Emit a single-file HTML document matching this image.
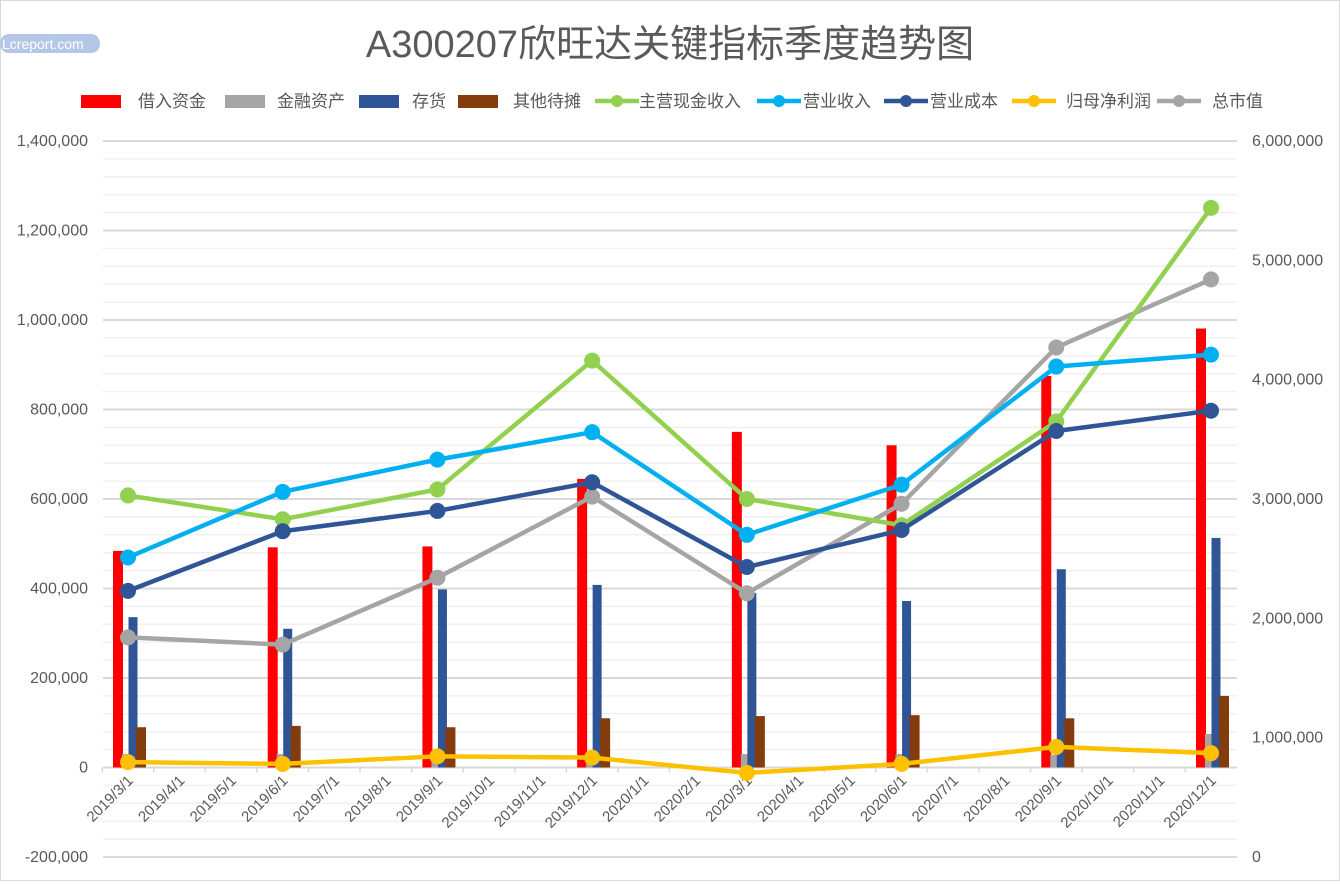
<!DOCTYPE html>
<html><head><meta charset="utf-8"><style>
body{margin:0;background:#fff;}
svg text{font-family:"Liberation Sans","Noto Sans CJK SC",sans-serif;}
</style></head><body>
<svg id="chart" width="1340" height="881" xmlns="http://www.w3.org/2000/svg">
<rect x="0.5" y="0.5" width="1339" height="880" fill="#fff" stroke="#d9d9d9"/>
<text x="670" y="57" text-anchor="middle" font-size="38" fill="#595959">A300207欣旺达关键指标季度趋势图</text>
<rect x="0" y="34" width="100" height="19" rx="9" fill="#b4c7e7"/>
<text x="2" y="49" font-size="14" fill="#fff">Lcreport.com</text>
<g id="grid"></g><g id="axes"></g><g id="bars"></g><g id="lines"></g><g id="legend"></g>
</svg>
<script>
const dates=["2019/3/1","2019/6/1","2019/9/1","2019/12/1","2020/3/1","2020/6/1","2020/9/1","2020/12/1"];
const monthIdx=[0,3,6,9,12,15,18,21];
const borrow=[484000,492000,494000,645000,750000,720000,875000,981000];
const finAssets=[30000,30000,28000,25000,30000,30000,28000,75000];
const inventory=[336000,310000,398000,408000,390000,372000,443000,513000];
const otherPrepaid=[90000,93000,90000,110000,115000,117000,110000,160000];
const mainCash=[3030000,2830000,3080000,4160000,3000000,2780000,3650000,5440000];
const revenue=[2510000,3060000,3330000,3560000,2700000,3120000,4110000,4210000];
const cost=[2230000,2730000,2900000,3140000,2430000,2740000,3570000,3740000];
const netProfit=[12000,8000,25000,22000,-12000,8000,46000,32000];
const marketCap=[1840000,1780000,2340000,3020000,2210000,2960000,4270000,4840000];
const leftTicks=[-200000,0,200000,400000,600000,800000,1000000,1200000,1400000];
const rightTicks=[0,1000000,2000000,3000000,4000000,5000000,6000000];
const monthLabels=["2019/3/1","2019/4/1","2019/5/1","2019/6/1","2019/7/1","2019/8/1","2019/9/1","2019/10/1","2019/11/1","2019/12/1","2020/1/1","2020/2/1","2020/3/1","2020/4/1","2020/5/1","2020/6/1","2020/7/1","2020/8/1","2020/9/1","2020/10/1","2020/11/1","2020/12/1"];

const NS="http://www.w3.org/2000/svg";
const X0=103,X1=1237,YT=141,YB=857;
const yL=v=>YB-(v+200000)/1600000*(YB-YT);
const yR=v=>YB-v/6000000*(YB-YT);
const xM=m=>128+m*(1211-128)/21;
function mk(tag,attrs,parent){const e=document.createElementNS(NS,tag);for(const k in attrs)e.setAttribute(k,attrs[k]);document.getElementById(parent).appendChild(e);return e;}
const fmt=v=>v.toLocaleString('en-US');

for(let v=-200000;v<=1400000;v+=40000){
  const major=(v%200000===0);
  const e=mk('line',{x1:X0,x2:X1,y1:yL(v),y2:yL(v),stroke:major?'#d9d9d9':'#f0f0f0','stroke-width':major?2:1.5},'grid');
  
  
}
leftTicks.forEach(v=>{
  const t=mk('text',{x:88,y:yL(v)+5,'text-anchor':'end','font-size':16,fill:'#595959'},'axes');t.textContent=fmt(v);
  
  
});
rightTicks.forEach(v=>{
  const t=mk('text',{x:1252,y:yR(v)+5,'font-size':16,fill:'#595959'},'axes');t.textContent=fmt(v);
  
  
});
const ax=mk('line',{x1:X0,x2:X1,y1:yL(0),y2:yL(0),stroke:'#d9d9d9','stroke-width':2},'axes');


monthLabels.forEach((lab,i)=>{
  const x=xM(i)-25.8;
  const tk=mk('line',{x1:x,x2:x,y1:yL(0),y2:yL(0)+5,stroke:'#d9d9d9','stroke-width':1.5},'axes');
  
  
  const t=mk('text',{x:xM(i)+6,y:yL(0)+14,'text-anchor':'end','font-size':15,fill:'#595959',transform:`rotate(-45 ${xM(i)+6} ${yL(0)+14})`},'axes');t.textContent=lab;
  
  
});
const barSeries=[[borrow,'#ff0000',-10,10],[finAssets,'#a5a5a5',-2,8],[inventory,'#2f5597',5,9],[otherPrepaid,'#843c0c',13,10]];
barSeries.forEach(([arr,col,off,w])=>{
  arr.forEach((v,i)=>{
    const x=xM(monthIdx[i])+off-w/2,y0=yL(0),y1=yL(v);
    const r=mk('rect',{x:x,y:Math.min(y0,y1),width:w,height:Math.abs(y1-y0),fill:col},'bars');
    
    
  });
});
const lineSeries=[[marketCap,'#a5a5a5',yR],[mainCash,'#92d050',yR],[revenue,'#00b0f0',yR],[cost,'#2f5597',yR],[netProfit,'#ffc000',yL]];
lineSeries.forEach(([arr,col,fy])=>{
  const pts=arr.map((v,i)=>xM(monthIdx[i])+','+fy(v)).join(' ');
  const p=mk('polyline',{points:pts,fill:'none',stroke:col,'stroke-width':4.5,'stroke-linejoin':'round'},'lines');
  
  
  arr.forEach((v,i)=>{
    const c=mk('circle',{cx:xM(monthIdx[i]),cy:fy(v),r:8,fill:col},'lines');
    
    
  });
});
const legendBoxes=[['借入资金','#ff0000',81,138],['金融资产','#a5a5a5',225,277],['存货','#2f5597',359,412],['其他待摊','#843c0c',458,513]];
legendBoxes.forEach(([lab,col,x,tx])=>{
  const r=mk('rect',{x:x,y:95,width:40,height:13,fill:col},'legend');
  
  
  const t=mk('text',{x:tx,y:107,'font-size':17,fill:'#595959'},'legend');t.textContent=lab;
  
  
});
const legendLines=[['主营现金收入','#92d050',595,639],['营业收入','#00b0f0',757,803],['营业成本','#2f5597',884,930],['归母净利润','#ffc000',1012,1066],['总市值','#a5a5a5',1157,1212]];
legendLines.forEach(([lab,col,x,tx])=>{
  const l=mk('line',{x1:x,x2:x+44,y1:101,y2:101,stroke:col,'stroke-width':4.5},'legend');
  
  
  const c=mk('circle',{cx:x+22,cy:101,r:6,fill:col},'legend');
  
  
  const t=mk('text',{x:tx,y:107,'font-size':17,fill:'#595959'},'legend');t.textContent=lab;
  
  
});
</script>
</body></html>
